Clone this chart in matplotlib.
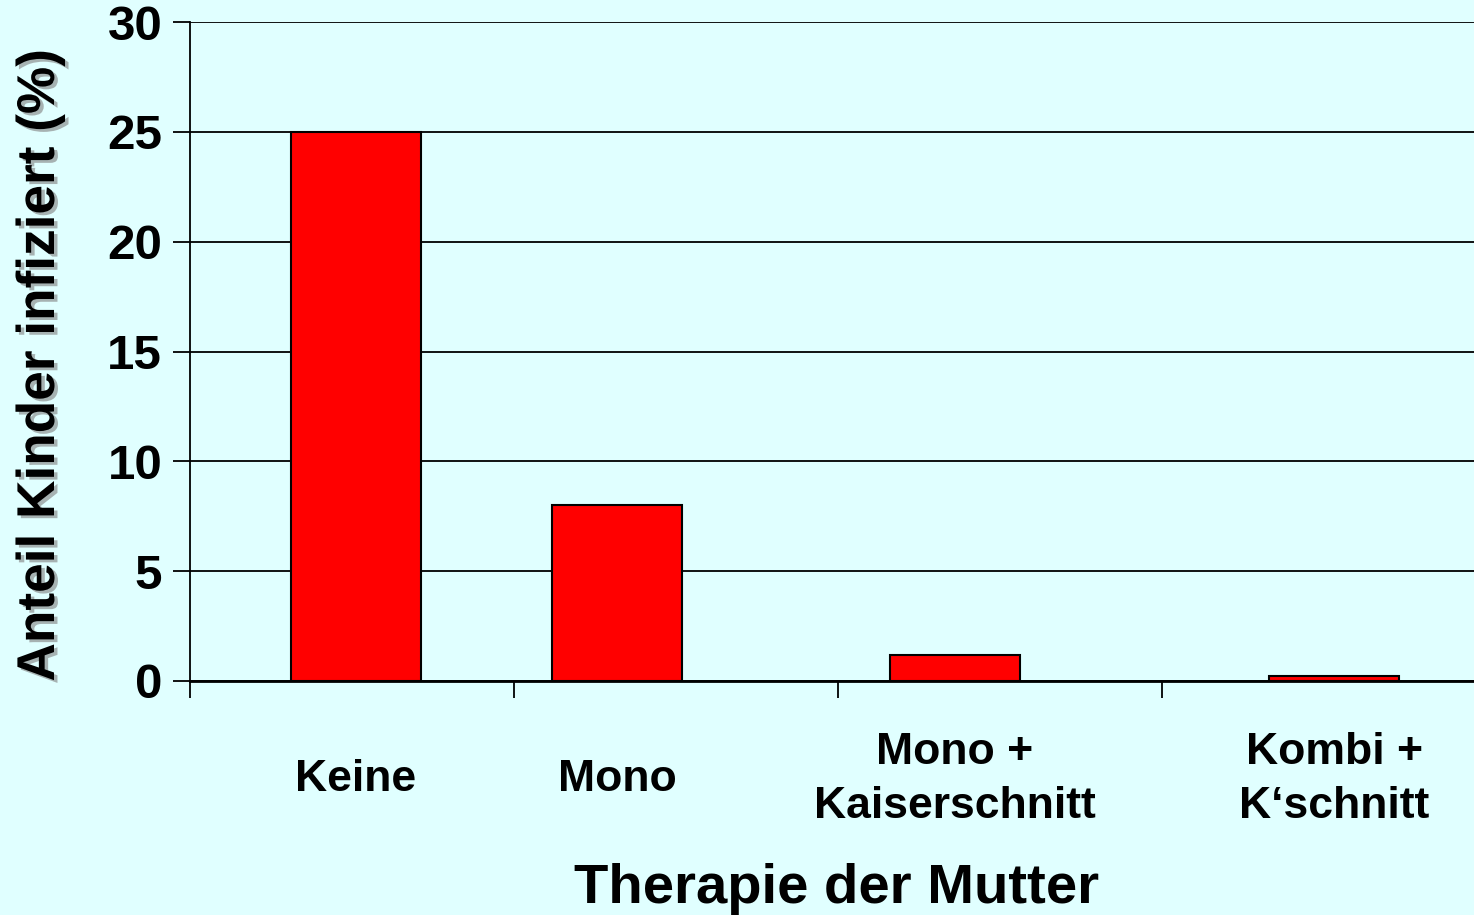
import matplotlib.pyplot as plt
import matplotlib.patheffects as pe

categories = ["Keine", "Mono", "Mono +\nKaiserschnitt", "Kombi +\nK\u2018schnitt"]
values = [25, 8, 1.2, 0.25]
yticks = [0, 5, 10, 15, 20, 25, 30]

# bar centres are not evenly spaced in the original slide
bar_x = [0.512, 1.318, 2.361, 3.531]
bg = "#E0FFFF"

plt.rcParams['font.family'] = ['Liberation Sans', 'DejaVu Sans']
plt.rcParams['font.weight'] = 'bold'

fig = plt.figure(figsize=(14.74, 9.15), dpi=100, facecolor=bg)
ax = fig.add_axes([190/1474, 1 - 681/915, 1 - 190/1474, (681 - 22)/915])
ax.set_facecolor(bg)

ax.bar(bar_x, values, width=0.40, color="#FF0000", edgecolor="black", linewidth=1.5, zorder=3)

ax.set_xlim(0, 3.963)
ax.set_ylim(0, 30)
ax.set_yticks(yticks)
ax.set_yticklabels([str(t) for t in yticks], fontsize=35.5, fontweight='bold')
ax.tick_params(axis='y', length=12, width=1.3, pad=8, direction='out')
ax.grid(axis='y', color='black', linewidth=1.3, zorder=1)

ax.set_xticks([0, 1, 2, 3])
ax.set_xticklabels([])
ax.tick_params(axis='x', length=12, width=1.3, direction='out')

for s in ['top', 'right']:
    ax.spines[s].set_visible(False)
ax.spines['left'].set_linewidth(1.3)
ax.spines['bottom'].set_linewidth(2)
ax.spines['bottom'].set_zorder(4)

trans = ax.get_xaxis_transform()
for x, lab in zip(bar_x, categories):
    ax.text(x, -0.149, lab, transform=trans, ha='center', va='center',
            fontsize=32, fontweight='bold', linespacing=1.4)

fig.text(837/1474, 1 - 889/915, "Therapie der Mutter", ha='center', va='center',
         fontsize=40.5, fontweight='bold')

fig.text(40/1474, 1 - 365/915, "Anteil Kinder infiziert (%)", rotation=90,
         ha='center', va='center', fontsize=38.3, fontweight='bold',
         path_effects=[pe.withSimplePatchShadow(offset=(2.5, -2), shadow_rgbFace='gray', alpha=0.6)])

fig.savefig("out.png", dpi=100, facecolor=bg)
